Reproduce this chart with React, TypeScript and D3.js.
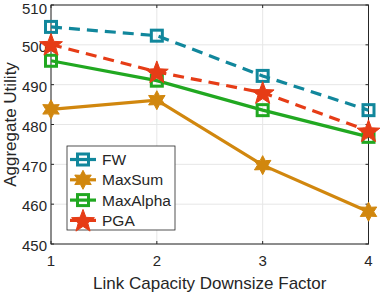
import React from "react";
import * as d3 from "d3";

const factors = [1, 2, 3, 4];
const fw = [504.5, 502.3, 492.2, 483.6];
const maxSum = [483.8, 486.1, 469.8, 458.1];
const maxAlpha = [496.0, 491.0, 483.6, 476.9];
const pga = [500.1, 493.2, 488.0, 478.4];
const yTicks = [450, 460, 470, 480, 490, 500, 510];
const xTicks = [1, 2, 3, 4];

const W = 382, H = 292;
const M = { left: 51, right: 368.5, top: 5, bottom: 244 };
const FONT = "'Liberation Sans', Arial, Helvetica, sans-serif";

type Series = { name: string; values: number[]; color: string; dash?: string; marker: string };
const series: Series[] = [
  { name: "FW", values: fw, color: "#11879c", dash: "11,7", marker: "square" },
  { name: "MaxSum", values: maxSum, color: "#d1870e", marker: "hexagram" },
  { name: "MaxAlpha", values: maxAlpha, color: "#21a821", marker: "square" },
  { name: "PGA", values: pga, color: "#e63c16", dash: "11,7", marker: "pentagram" },
];

function starPath(n: number, rOuter: number, rInner: number, rot = -Math.PI / 2) {
  const pts: string[] = [];
  for (let i = 0; i < 2 * n; i++) {
    const r = i % 2 === 0 ? rOuter : rInner;
    const a = rot + (i * Math.PI) / n;
    pts.push(`${(r * Math.cos(a)).toFixed(2)},${(r * Math.sin(a)).toFixed(2)}`);
  }
  return "M" + pts.join("L") + "Z";
}

function Marker({ s, x, y }: { s: Series; x: number; y: number }) {
  if (s.marker === "square") {
    return <rect x={x - 5.5} y={y - 5.5} width={11} height={11} fill="none" stroke={s.color} strokeWidth={3} />;
  }
  if (s.marker === "hexagram") {
    return <path d={starPath(6, 9.5, 5.2)} transform={`translate(${x},${y})`} fill={s.color} stroke={s.color} strokeWidth={1} />;
  }
  return <path d={starPath(5, 12, 5)} transform={`translate(${x},${y + 1})`} fill={s.color} stroke={s.color} strokeWidth={1} />;
}

export default function App() {
  const x = d3.scaleLinear().domain([1, 4]).range([M.left, M.right]);
  const y = d3.scaleLinear().domain([450, 510]).range([M.bottom, M.top]);
  const line = d3.line<number>().x((_, i) => x(factors[i])).y((d) => y(d));
  const legX = 67, legY = 146, legW = 108, legH = 84;
  return (
    <svg width={W} height={H} style={{ position: "absolute", left: 0, top: 0 }} fontFamily={FONT}>
      <rect width={W} height={H} fill="white" />
      {yTicks.map((t) => (
        <line key={"gy" + t} x1={M.left} x2={M.right} y1={y(t)} y2={y(t)} stroke="#e6e6e6" strokeWidth={1} />
      ))}
      {xTicks.map((t) => (
        <line key={"gx" + t} x1={x(t)} x2={x(t)} y1={M.top} y2={M.bottom} stroke="#e6e6e6" strokeWidth={1} />
      ))}
      <rect x={M.left} y={M.top} width={M.right - M.left} height={M.bottom - M.top} fill="none" stroke="#262626" strokeWidth={1} />
      {yTicks.map((t) => (
        <g key={"ty" + t}>
          <line x1={M.left} x2={M.left + 3} y1={y(t)} y2={y(t)} stroke="#262626" />
          <line x1={M.right} x2={M.right - 3} y1={y(t)} y2={y(t)} stroke="#262626" />
          <text x={M.left - 4} y={Math.max(y(t) + 7.3, 14)} textAnchor="end" fontSize={15} fill="#262626">{t}</text>
        </g>
      ))}
      {xTicks.map((t) => (
        <g key={"tx" + t}>
          <line x1={x(t)} x2={x(t)} y1={M.bottom} y2={M.bottom - 3} stroke="#262626" />
          <line x1={x(t)} x2={x(t)} y1={M.top} y2={M.top + 3} stroke="#262626" />
          <text x={x(t)} y={M.bottom + 17} dy="0.35em" textAnchor="middle" fontSize={15} fill="#262626">{t}</text>
        </g>
      ))}
      <text x={(M.left + M.right) / 2} y={283} dy="0.35em" textAnchor="middle" fontSize={17} fill="#262626">Link Capacity Downsize Factor</text>
      <text transform={`translate(10,${(M.top + M.bottom) / 2}) rotate(-90)`} dy="0.35em" textAnchor="middle" fontSize={17} fill="#262626">Aggregate Utility</text>
      {series.map((s) => (
        <g key={s.name}>
          <path d={line(s.values) || ""} fill="none" stroke={s.color} strokeWidth={3.2} strokeDasharray={s.dash} />
          {s.values.map((v, i) => (
            <Marker key={i} s={s} x={x(factors[i])} y={y(v)} />
          ))}
        </g>
      ))}
      <rect x={legX} y={legY} width={legW} height={legH} fill="white" stroke="#262626" strokeWidth={0.8} />
      {series.map((s, i) => {
        const cy = 159.5 + i * 20.3;
        return (
          <g key={"leg" + s.name}>
            <line x1={70} x2={96} y1={cy} y2={cy} stroke={s.color} strokeWidth={3.2} />
            <Marker s={s} x={83} y={cy} />
            <text x={102} y={cy} dy="0.35em" fontSize={15.5} fill="#262626">{s.name}</text>
          </g>
        );
      })}
    </svg>
  );
}
